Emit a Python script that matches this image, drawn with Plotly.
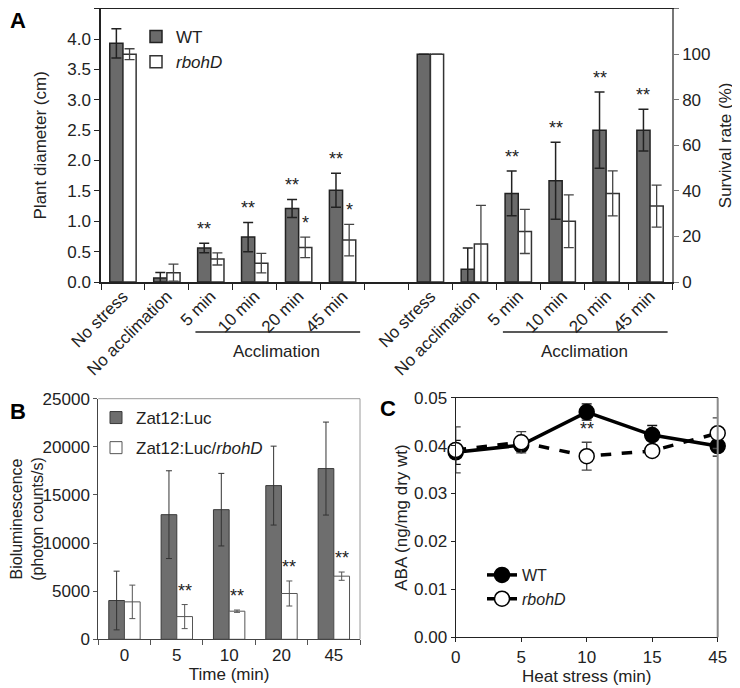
import plotly.graph_objects as go

# ---------------- data ----------------
# Panel A
cats_A = ["No stress", "No acclimation", "5 min", "10 min", "20 min", "45 min"]
diam_wt = [3.93, 0.066, 0.56, 0.74, 1.21, 1.51]
diam_wt_err = [0.24, 0.09, 0.08, 0.24, 0.15, 0.28]
diam_rb = [3.75, 0.154, 0.38, 0.31, 0.57, 0.69]
diam_rb_err = [0.09, 0.14, 0.10, 0.16, 0.17, 0.26]
diam_wt_sig = ["", "", "**", "**", "**", "**"]
diam_rb_sig = ["", "", "", "", "*", "*"]

surv_wt = [100, 5.56, 38.89, 44.44, 66.67, 66.67]
surv_wt_err = [0, 9.4, 9.8, 16.9, 16.7, 9.2]
surv_rb = [100, 16.67, 22.22, 26.67, 38.89, 33.33]
surv_rb_err = [0, 17.0, 9.7, 11.6, 9.9, 9.2]
surv_wt_sig = ["", "", "**", "**", "**", "**"]

# Panel B
time_B = ["0", "5", "10", "20", "45"]
lum_wt = [4030, 12950, 13470, 15970, 17740]
lum_wt_err = [3050, 4560, 3770, 4100, 4830]
lum_rb = [3890, 2360, 2920, 4760, 6560]
lum_rb_err = [1740, 1250, 120, 1300, 430]
lum_rb_sig = ["", "**", "**", "**", "**"]

# Panel C
time_C = ["0", "5", "10", "15", "45"]
aba_wt = [0.0386, 0.0401, 0.0470, 0.0422, 0.0399]
aba_wt_err = [0.0025, 0.0012, 0.0017, 0.0020, 0.0021]
aba_rb = [0.0391, 0.0407, 0.0378, 0.0389, 0.0426]
aba_rb_err = [0.0048, 0.0022, 0.0029, 0.0005, 0.0032]
aba_rb_sig = ["", "", "**", "", ""]

# ---------------- geometry helpers (page px -> paper) ----------------
W, H, OFF = 732, 680, 8   # page body has an 8px margin


def px(x):
    return (x - OFF) / W


def py(y):
    return 1 - (y - OFF) / H


# ---------------- styling ----------------
FONT = "Liberation Sans, Arial, sans-serif"
WT_FILL = "#6a6a6a"
DARK = "#222222"
BW = 0.3  # bar width (category units)

fig = go.Figure()

posL = list(range(len(cats_A)))
posR = [p + len(cats_A) + 1 for p in posL]

# Panel A left (diameter)
fig.add_trace(go.Bar(x=posL, y=diam_wt, width=BW, offset=-BW, name="WT",
                     marker=dict(color=WT_FILL, line=dict(color=DARK, width=1.5)),
                     error_y=dict(type="data", array=diam_wt_err, color=DARK, thickness=1.5, width=5),
                     xaxis="x", yaxis="y", legend="legend", legendgroup="a1"))
fig.add_trace(go.Bar(x=posL, y=diam_rb, width=BW, offset=0, name="<i>rbohD</i>",
                     marker=dict(color="white", line=dict(color="#333333", width=1.5)),
                     error_y=dict(type="data", array=diam_rb_err, color="#444444", thickness=1.3, width=5),
                     xaxis="x", yaxis="y", legend="legend", legendgroup="a2"))
# Panel A right (survival)
fig.add_trace(go.Bar(x=posR, y=surv_wt, width=BW, offset=-BW, showlegend=False,
                     marker=dict(color=WT_FILL, line=dict(color=DARK, width=1.5)),
                     error_y=dict(type="data", array=surv_wt_err, color=DARK, thickness=1.5, width=5),
                     xaxis="x", yaxis="y2"))
fig.add_trace(go.Bar(x=posR, y=surv_rb, width=BW, offset=0, showlegend=False,
                     marker=dict(color="white", line=dict(color="#333333", width=1.5)),
                     error_y=dict(type="data", array=surv_rb_err, color="#444444", thickness=1.3, width=5),
                     xaxis="x", yaxis="y2"))

# Panel B
fig.add_trace(go.Bar(x=time_B, y=lum_wt, width=BW, offset=-BW, name="Zat12:Luc",
                     marker=dict(color="#6e6e6e", line=dict(color="#3a3a3a", width=1)),
                     error_y=dict(type="data", array=lum_wt_err, color="#333333", thickness=1, width=3),
                     xaxis="x2", yaxis="y3", legend="legend2", legendgroup="b1"))
fig.add_trace(go.Bar(x=time_B, y=lum_rb, width=BW, offset=0, name="Zat12:Luc/<i>rbohD</i>",
                     marker=dict(color="white", line=dict(color="#555555", width=1)),
                     error_y=dict(type="data", array=lum_rb_err, color="#555555", thickness=1, width=3),
                     xaxis="x2", yaxis="y3", legend="legend2", legendgroup="b2"))

# Panel C
posC = list(range(len(time_C)))
fig.add_trace(go.Scatter(x=posC, y=aba_wt, mode="lines+markers", name="WT",
                         line=dict(color="black", width=3.5),
                         marker=dict(size=15, color="black", line=dict(color="black", width=1.5)),
                         error_y=dict(type="data", array=aba_wt_err, color="#111111", thickness=1.3, width=5),
                         cliponaxis=False,
                         xaxis="x3", yaxis="y4", legend="legend3", legendgroup="c1"))
fig.add_trace(go.Scatter(x=posC, y=aba_rb, mode="lines+markers", name="<i>rbohD</i>",
                         line=dict(color="black", width=3.5, dash="dash"),
                         marker=dict(size=15, color="white", line=dict(color="black", width=1.5)),
                         error_y=dict(type="data", array=aba_rb_err, color="#444444", thickness=1.3, width=5),
                         cliponaxis=False,
                         xaxis="x3", yaxis="y4", legend="legend3", legendgroup="c2"))

# ---------------- annotations ----------------
ann = []


def star(x, y, txt, xref, yref, shift=2):
    if txt:
        ann.append(dict(x=x, y=y, text=txt, xref=xref, yref=yref, showarrow=False,
                        yanchor="bottom", yshift=shift, font=dict(size=18, color="#222")))


for i in range(len(cats_A)):
    star(posL[i] - BW / 2, diam_wt[i] + diam_wt_err[i], diam_wt_sig[i], "x", "y")
    star(posL[i] + BW / 2, diam_rb[i] + diam_rb_err[i], diam_rb_sig[i], "x", "y")
    star(posR[i] - BW / 2, surv_wt[i] + surv_wt_err[i], surv_wt_sig[i], "x", "y2")
for i in range(len(time_B)):
    star(i + BW / 2, lum_rb[i] + lum_rb_err[i], lum_rb_sig[i], "x2", "y3")
for i in range(len(time_C)):
    star(posC[i], aba_rb[i] + aba_rb_err[i], aba_rb_sig[i], "x3", "y4", shift=1)

# Acclimation group labels
shapes = []
for start in (posL[2], posR[2]):
    end = start + 3
    shapes.append(dict(type="line", xref="x", yref="paper", x0=start - 0.35, x1=end + 0.4,
                       y0=py(332), y1=py(332), line=dict(color="#222", width=1.5)))
    ann.append(dict(x=(start + end) / 2, y=py(351), xref="x", yref="paper", text="Acclimation",
                    showarrow=False, font=dict(size=17, color="#222"), yanchor="middle"))

# panel letters
for letter, x, y in (("A", px(8), py(6)), ("B", px(8), py(397)), ("C", px(378), py(394))):
    ann.append(dict(x=x, y=y, xref="paper", yref="paper", text="<b>%s</b>" % letter,
                    showarrow=False, xanchor="left", yanchor="top", font=dict(size=22, color="black")))

# frames
shapes += [
    dict(type="line", xref="x2 domain", yref="y3 domain", x0=0, x1=1, y0=1, y1=1, line=dict(color="#9a9a9a", width=1)),
    dict(type="line", xref="x2 domain", yref="y3 domain", x0=1, x1=1, y0=0, y1=1, line=dict(color="#9a9a9a", width=1)),
    dict(type="line", xref="x3 domain", yref="y4 domain", x0=1, x1=1, y0=0, y1=1, line=dict(color="#8a8a8a", width=2)),
]

tickfont = dict(size=17, color="#222", family=FONT)
titlefont = dict(size=17, color="#222", family=FONT)

fig.update_layout(
    width=W, height=H, margin=dict(l=0, r=0, t=0, b=0, autoexpand=False),
    paper_bgcolor="white", plot_bgcolor="white",
    font=dict(family=FONT, size=17, color="#222"),
    barmode="overlay",
    annotations=ann, shapes=shapes,
    # Panel A
    xaxis=dict(domain=[px(101), px(672)], anchor="y", range=[-0.5, 12.5], automargin=False,
               tickvals=posL + posR, ticktext=cats_A + cats_A, tickangle=-45, ticklabelstandoff=-4,
               ticks="", showline=True, linecolor="#222", linewidth=1.5, mirror=True,
               showgrid=False, zeroline=False, tickfont=tickfont,
               minor=dict(tickvals=[k - 0.5 for k in range(14)], ticks="outside", ticklen=6,
                          tickcolor="#222", tickwidth=1.2, showgrid=False)),
    yaxis=dict(domain=[py(282), 0.999], anchor="x", range=[0, 4.5], tickvals=[i * 0.5 for i in range(10)],
               automargin=False,
               tickformat=".1f", ticks="outside", ticklen=5, tickcolor="#222", showline=True,
               linecolor="#222", linewidth=1.5, showgrid=False, zeroline=False, tickfont=tickfont,
               title=dict(text="Plant diameter (cm)", font=titlefont, standoff=16)),
    yaxis2=dict(overlaying="y", side="right", anchor="x", range=[0, 120], tickvals=list(range(0, 121, 20)),
                automargin=False,
                ticks="outside", ticklen=5, tickcolor="#777", showline=True, linecolor="#777",
                linewidth=1.5, showgrid=False, zeroline=False, tickfont=tickfont,
                title=dict(text="Survival rate (%)", font=titlefont, standoff=10)),
    # Panel B
    xaxis2=dict(domain=[px(98.3), px(360)], anchor="y3", type="category", tickson="boundaries",
                automargin=False,
                ticks="outside", ticklen=5, tickcolor="#555", showline=True, linecolor="#444",
                linewidth=1, showgrid=False, zeroline=False, tickfont=tickfont,
                title=dict(text="Time (min)", font=titlefont, standoff=4)),
    yaxis3=dict(domain=[py(639.3), py(398.7)], anchor="x2", range=[0, 25000], tickvals=list(range(0, 25001, 5000)),
                automargin=False,
                tickformat="d", ticks="outside", ticklen=4, tickcolor="#555", showline=True,
                linecolor="#444", linewidth=1, showgrid=False, zeroline=False, tickfont=tickfont,
                title=dict(text="Bioluminescence<br>(photon counts/s)", font=dict(size=16, color="#222", family=FONT),
                           standoff=5)),
    # Panel C
    xaxis3=dict(domain=[px(455.7), px(717.7)], anchor="y4", range=[0, 4], tickvals=posC, ticktext=time_C,
                automargin=False,
                ticks="outside", ticklen=4, tickcolor="#222", showline=True, linecolor="#222",
                linewidth=1.2, mirror=True, showgrid=False, zeroline=False, tickfont=tickfont,
                title=dict(text="Heat stress (min)", font=titlefont, standoff=2)),
    yaxis4=dict(domain=[py(637.3), py(397.7)], anchor="x3", range=[0, 0.05], tickvals=[i * 0.01 for i in range(6)],
                automargin=False,
                tickformat=".2f", ticks="outside", ticklen=4, tickcolor="#222", showline=True,
                linecolor="#222", linewidth=1.2, showgrid=False, zeroline=False, tickfont=tickfont,
                title=dict(text="ABA (ng/mg dry wt)", font=titlefont, standoff=2)),
    legend=dict(x=px(136), y=py(19), xanchor="left", yanchor="top", bgcolor="rgba(0,0,0,0)",
                font=dict(size=17), tracegroupgap=0),
    legend2=dict(x=px(96), y=py(400), xanchor="left", yanchor="top", bgcolor="rgba(0,0,0,0)",
                 font=dict(size=17), tracegroupgap=5),
    legend3=dict(x=px(482), y=py(558), xanchor="left", yanchor="top", bgcolor="rgba(0,0,0,0)",
                 font=dict(size=16), tracegroupgap=0),
)

fig.write_html("out.html")
